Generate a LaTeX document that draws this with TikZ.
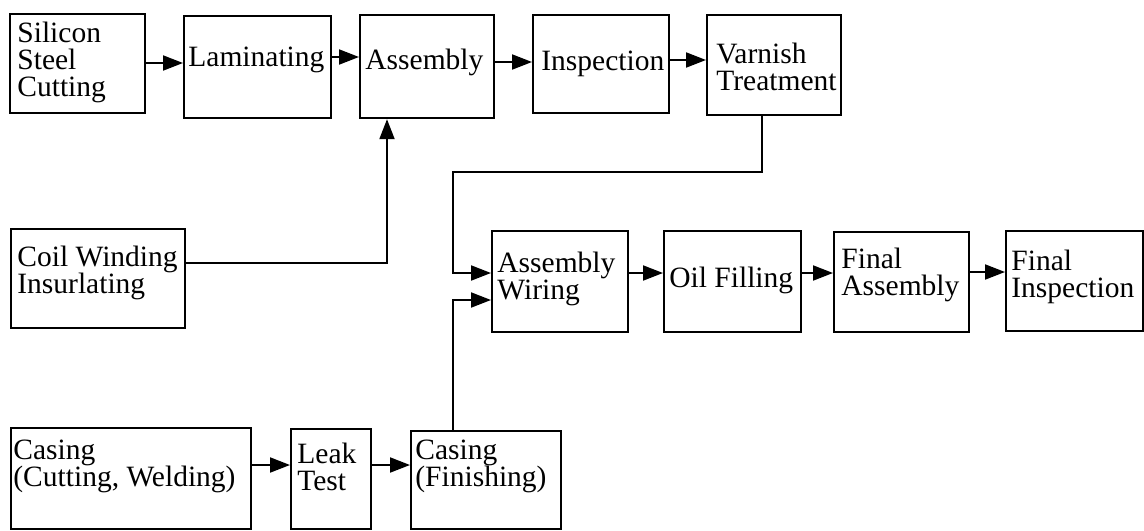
\documentclass[tikz,border=0pt]{standalone}
\usepackage{fontspec}
\setmainfont{Liberation Serif}
\usetikzlibrary{arrows.meta}
\begin{document}
\begin{tikzpicture}[x=0.5pt,y=-0.5pt,
  bx/.style={draw, line width=1.1pt, inner sep=0pt, anchor=north west},
  txt/.style={anchor=north west, inner sep=0pt, align=left, font=\fontsize{14.75pt}{13.5pt}\selectfont},
  arr/.style={line width=1pt, -{Triangle[length=10pt,width=7.5pt]}},
  ln/.style={line width=1pt}]
\useasboundingbox (0,0) rectangle (1144,530);
% boxes
\node[bx, minimum width=67.5pt, minimum height=49.5pt] (sil) at (9,13) {};
\node[bx, minimum width=73.5pt, minimum height=51pt] (lam) at (183,15) {};
\node[bx, minimum width=67pt, minimum height=51.5pt] (asm) at (359,14) {};
\node[bx, minimum width=68pt, minimum height=49pt] (insp) at (532,14) {};
\node[bx, minimum width=67pt, minimum height=50pt] (var) at (706,14) {};
\node[bx, minimum width=87pt, minimum height=49.5pt] (coil) at (10,228) {};
\node[bx, minimum width=68pt, minimum height=50.5pt] (aw) at (491,230) {};
\node[bx, minimum width=68.5pt, minimum height=50.5pt] (oil) at (663,230) {};
\node[bx, minimum width=67.5pt, minimum height=50pt] (fa) at (833,231) {};
\node[bx, minimum width=68.5pt, minimum height=50pt] (fi) at (1005,230) {};
\node[bx, minimum width=120pt, minimum height=50.5pt] (cas) at (10,427) {};
\node[bx, minimum width=40pt, minimum height=50pt] (leak) at (290,428) {};
\node[bx, minimum width=75pt, minimum height=49pt] (cfin) at (410,430) {};
% texts
\node[txt] (tsil) at (17,22) {Silicon\\Steel\\Cutting};
\node[txt] (tlam) at (188,47) {Laminating};
\node[txt] (tasm) at (365,49) {Assembly};
\node[txt] (tinsp) at (541,51) {Inspection};
\node[txt] (tvar) at (716,43) {Varnish\\Treatment};
\node[txt] (tcoil) at (17,246) {Coil Winding\\Insurlating};
\node[txt] (taw) at (497,252) {Assembly\\Wiring};
\node[txt] (toil) at (669,267) {Oil Filling};
\node[txt] (tfa) at (841,248) {Final\\Assembly};
\node[txt] (tfi) at (1011,250) {Final\\Inspection};
\node[txt] (tcas) at (13,440) {Casing\\(Cutting, Welding)};
\node[txt] (tleak) at (297,443) {Leak\\Test};
\node[txt] (tcfin) at (415,440) {Casing\\(Finishing)};
% junction coordinates
\coordinate (y1) at (0,63);
\coordinate (y2) at (0,57);
\coordinate (y3) at (0,62);
\coordinate (y4) at (0,60);
\coordinate (y5) at (0,273);
\coordinate (y6) at (0,272);
\coordinate (y7) at (0,465);
\coordinate (c1) at (387,263);
\coordinate (v1) at (762,172);
\coordinate (v2) at (453,172);
\coordinate (v3) at (453,273);
\coordinate (k1) at (453,300);
% connectors
\draw[arr] (sil.east |- y1) -- (lam.west |- y1);
\draw[arr] (lam.east |- y2) -- (asm.west |- y2);
\draw[arr] (asm.east |- y3) -- (insp.west |- y3);
\draw[arr] (insp.east |- y4) -- (var.west |- y4);
\draw[arr] (coil.east |- c1) -- (c1) -- (asm.south -| c1);
\draw[arr] (var.south -| v1) -- (v1) -- (v2) -- (v3) -- (aw.west |- v3);
\draw[arr] (cfin.north -| k1) -- (k1) -- (aw.west |- k1);
\draw[arr] (aw.east |- y5) -- (oil.west |- y5);
\draw[arr] (oil.east |- y5) -- (fa.west |- y5);
\draw[arr] (fa.east |- y6) -- (fi.west |- y6);
\draw[arr] (cas.east |- y7) -- (leak.west |- y7);
\draw[arr] (leak.east |- y7) -- (cfin.west |- y7);
\end{tikzpicture}
\end{document}
